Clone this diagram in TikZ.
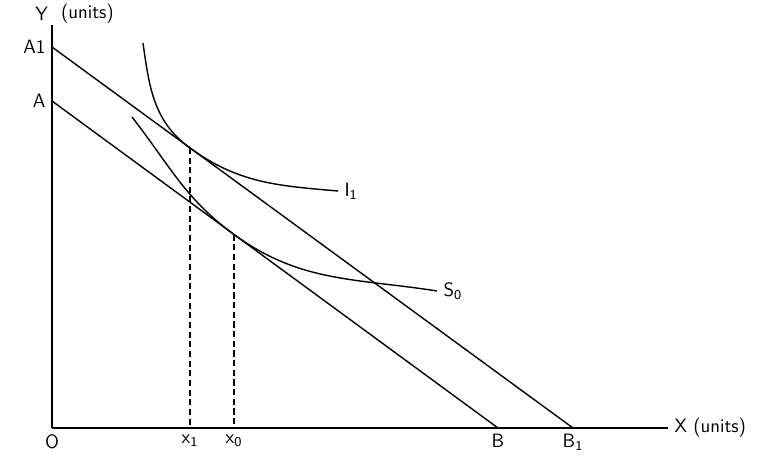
\documentclass[tikz,border=0pt]{standalone}
\begin{document}
\begin{tikzpicture}[line width=0.8pt,font=\sffamily\fontsize{11}{13}\selectfont]
        \useasboundingbox (-1.04,-0.64) rectangle (14.62,8.56);
        %punti
        \coordinate (O) at (0,0);
        \coordinate (Ytop) at (0,8.06);
        \coordinate (Xend) at (12.32,0);
        \coordinate (A1) at (0,7.62);
        \coordinate (A) at (0,6.54);
        \coordinate (B1) at (10.42,0);
        \coordinate (B) at (8.92,0);
        \coordinate (T1) at (2.76,5.60);
        \coordinate (T0) at (3.64,3.87);
        \coordinate (X1) at (2.76,0);
        \coordinate (X0) at (3.64,0);

        %asse x
        \draw (O)--(Xend)node[right](xlab){X (units)};
        %asse y
        \draw (O)--(Ytop);
        \node[left] (ylab) at (0.05,8.28) {Y};
        \node[right] (yunit) at (0.05,8.28) {(units)};

        %rette di bilancio
        \draw (A1)node[left](lA1){A1}--(B1)node[below](lB1){B\textsubscript{1}};
        \draw (A)node[left](lA){A}--(B)node[below](lB){B};

        %curve
        \draw (1.82,7.70) to [out=-82, in=144] (T1) to [out=-36, in=175] (5.72,4.74)node[right](lI1){I\textsubscript{1}};
        \draw (1.60,6.22) to [out=-52, in=144] (T0) to [out=-36, in=171] (7.70,2.74)node[right](lS0){S\textsubscript{0}};

        %tratteggi
        \draw [dash pattern=on 3.5pt off 2pt, line width=1.1pt] (T1)--(X1)node[below](lx1){x\textsubscript{1}};
        \draw [dash pattern=on 3.5pt off 2pt, line width=1.1pt] (T0)--(X0)node[below](lx0){x\textsubscript{0}};
        \node[below] (lO) at (O) {O};

    \end{tikzpicture}
\end{document}
